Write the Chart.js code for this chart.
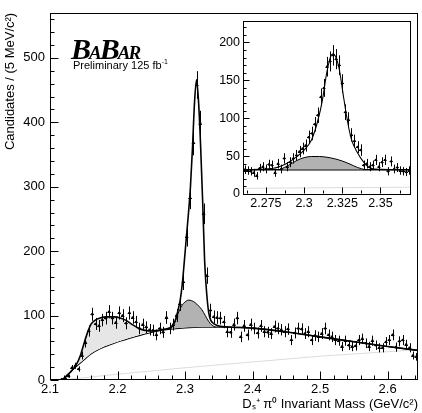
<!DOCTYPE html>
<html>
<head>
<meta charset="utf-8">
<script src="https://cdn.jsdelivr.net/npm/chart.js@4.4.1/dist/chart.umd.min.js"></script>
<style>
  html, body { margin: 0; padding: 0; background: #fff; }
  #wrap { position: relative; width: 422px; height: 413px; overflow: hidden; }
  #main { position: absolute; left: 0; top: 0; }
  #inset { position: absolute; left: 200px; top: 10px; }
  #logo { position: absolute; left: 71px; top: 34px; font-family: 'Liberation Serif', 'DejaVu Serif', serif;
          font-style: italic; font-weight: bold; color: #000; line-height: 1; letter-spacing: -2px; white-space: nowrap; }
  #logo .big { font-size: 30px; }
  #logo .sm { font-size: 19px; }
  #prelim { position: absolute; left: 73px; top: 58px; font: 11px 'Liberation Sans', Arial, sans-serif; color: #000; white-space: nowrap; }
</style>
</head>
<body>
<div id="wrap">
  <canvas id="main" width="422" height="413"></canvas>
  <div id="logo"><span class="big">B</span><span class="sm">A</span><span class="big">B</span><span class="sm">AR</span></div>
  <div id="prelim">Preliminary 125 fb<sup style="font-size:7px">-1</sup></div>
  <canvas id="inset" width="222" height="205"></canvas>
</div>
<script>
const FONT = "'Liberation Sans', Arial, Helvetica, sans-serif";

// main plot: 5 MeV bins
const binStart = 2.1025;
const binWidth = 0.005;
const counts = [null, null, null, 1, 3, 6, 19, 22, 17, 38,
  58, 76, 102, 87, 84, 93, 96, 106, 96, 89,
  104, 100, 88, 104, 97, 90, 80, 86, 82, 78,
  77, 70, 80, 74, 97, 80, 86, 100, 118, 152,
  222, 282, 368, 458, 398, 258, 162, 108, 98, 97,
  96, 90, 75, 74, 86, 96, 67, 84, 70, 86,
  80, 73, 84, 75, 74, 72, 83, 80, 78, 75,
  79, 62, 73, 80, 79, 72, 75, 62, 69, 67,
  72, 80, 70, 67, 62, 61, 52, 61, 54, 52,
  53, 62, 64, 57, 52, 61, 54, 50, 50, 59,
  62, 70, 51, 60, 62, 55, 50, 38, 36];

const bgX = [2.118, 2.125, 2.13, 2.14, 2.15, 2.16, 2.175, 2.2, 2.225, 2.25, 2.275, 2.3, 2.325, 2.35, 2.4, 2.45, 2.5, 2.55, 2.6, 2.645];
const bgY = [0, 7, 12, 22, 31, 40, 49, 59, 67, 74, 78.5, 81, 82, 82, 80.5, 74.5, 67, 59.5, 52, 46];

const totalX = [2.118, 2.125, 2.13, 2.139, 2.145, 2.149, 2.155, 2.161, 2.167, 2.173, 2.185, 2.195, 2.205, 2.212, 2.222, 2.232, 2.241, 2.25, 2.26, 2.27, 2.28,
  2.285, 2.29, 2.293, 2.296, 2.299, 2.302, 2.305, 2.308, 2.311, 2.314, 2.317, 2.32, 2.323, 2.326, 2.329, 2.332, 2.335, 2.338, 2.342, 2.347, 2.355,
  2.37, 2.4, 2.45, 2.5, 2.55, 2.6, 2.645];
const totalY = [0, 7, 12, 24, 38, 52, 72, 87, 93, 96, 98, 98, 96, 93, 86, 80, 77, 76, 77, 79, 82.5,
  91, 110, 125, 150, 185, 222, 258, 300, 360, 430, 466, 432, 365, 280, 185, 135, 105, 93, 88, 85, 83,
  82, 80.5, 74.5, 67, 59.5, 52, 46];

const reflX = [2.135, 2.14, 2.145, 2.149, 2.155, 2.161, 2.167, 2.173, 2.185, 2.195, 2.205, 2.212, 2.222, 2.232, 2.241, 2.25, 2.26, 2.27];
const reflY = [18, 25, 38, 52, 72, 87, 93, 96, 98, 98, 96, 93, 86, 80, 77, 76, 77, 79];

const bumpX = [2.276, 2.28, 2.285, 2.29, 2.295, 2.3, 2.305, 2.31, 2.315, 2.32, 2.325, 2.33, 2.335, 2.34, 2.345];
const bumpY = [78.8, 82, 90, 104, 115, 121, 124, 123, 120, 115, 109, 100, 91, 85, 82];

const faintX = [2.118, 2.2, 2.3, 2.4, 2.5, 2.645];
const faintY = [0, 9, 19, 28, 37, 47];

const mainXTicks = [2.1, 2.2, 2.3, 2.4, 2.5, 2.6];
const mainYTicks = [0, 100, 200, 300, 400, 500];

// inset: 2 MeV bins
const insetStart = 2.261;
const insetWidth = 0.002;
const insetCounts = [32, 31, 30, 28, 24, 34, 36, 33, 39, 38,
  28, 40, 33, 47, 36, 42, 47, 51, 56, 60,
  64, 75, 80, 92, 104, 128, 140, 168, 175, 183,
  178, 170, 146, 108, 98, 78, 70, 62, 58, 38,
  40, 36, 38, 45, 36, 42, 45, 30, 43, 33,
  35, 31, 30, 29, 31];

const insetTotX = [2.26, 2.27, 2.28, 2.285, 2.29, 2.295, 2.3, 2.305, 2.309, 2.312, 2.315, 2.3175, 2.319, 2.3205, 2.323, 2.326, 2.3285, 2.331, 2.3348, 2.339, 2.3435, 2.35, 2.37];
const insetTotY = [32, 32.5, 34, 37, 42, 49, 58, 72, 97, 124, 162, 182, 185, 182, 165, 126, 95, 72, 55, 42, 34, 32.5, 32];
const insetBumpX = [2.284, 2.29, 2.295, 2.3, 2.305, 2.31, 2.315, 2.32, 2.325, 2.33, 2.335, 2.34];
const insetBumpY = [32, 38, 44, 48, 49.5, 49.5, 48.5, 46.5, 43.5, 39.5, 35, 32];
const insetBgX = [2.26, 2.37];
const insetBgY = [32, 32];
const insetFaintX = [2.26, 2.37];
const insetFaintY = [7.5, 9];

const insetXTicks = [2.275, 2.3, 2.325, 2.35];
const insetYTicks = [0, 50, 100, 150, 200];

function pts(xs, ys) {
  return xs.map((x, i) => ({ x: x, y: ys[i] }));
}
function hist(start, w, vals) {
  return vals.map((v, i) => ({ x: start + i * w, y: v }));
}

// ROOT-like frame, inward ticks, error bars
const rootStyle = {
  id: 'rootStyle',
  beforeDraw(chart) {
    const a = chart.chartArea, ctx = chart.ctx;
    ctx.save();
    ctx.fillStyle = '#fff';
    ctx.fillRect(a.left, a.top, a.right - a.left, a.bottom - a.top);
    ctx.restore();
  },
  afterDatasetsDraw(chart) {
    const ctx = chart.ctx, xs = chart.scales.x, ys = chart.scales.y, a = chart.chartArea;
    ctx.save();
    ctx.beginPath();
    ctx.rect(a.left, a.top, a.right - a.left, a.bottom - a.top);
    ctx.clip();
    ctx.strokeStyle = '#000';
    ctx.lineWidth = 1;
    chart.data.datasets.forEach(ds => {
      if (!ds.binWidth) return;
      ds.data.forEach(p => {
        if (p.y == null) return;
        const e = Math.sqrt(p.y);
        const px = Math.round(xs.getPixelForValue(p.x)) + 0.5;
        const py = Math.round(ys.getPixelForValue(p.y)) + 0.5;
        ctx.beginPath();
        ctx.moveTo(px, ys.getPixelForValue(p.y - e));
        ctx.lineTo(px, ys.getPixelForValue(p.y + e));
        ctx.moveTo(xs.getPixelForValue(p.x - ds.binWidth / 2), py);
        ctx.lineTo(xs.getPixelForValue(p.x + ds.binWidth / 2), py);
        ctx.stroke();
      });
    });
    ctx.restore();
  },
  afterDraw(chart, args, opts) {
    const ctx = chart.ctx, xs = chart.scales.x, ys = chart.scales.y, a = chart.chartArea;
    ctx.save();
    ctx.strokeStyle = '#000';
    ctx.lineWidth = 1;
    ctx.strokeRect(Math.round(a.left) + 0.5, Math.round(a.top) + 0.5, Math.round(a.right - a.left) - 1, Math.round(a.bottom - a.top) - 1);
    ctx.beginPath();
    const bottom = Math.round(a.bottom) - 0.5, left = Math.round(a.left) + 0.5;
    const nx = Math.round((xs.max - opts.xMinorStart) / opts.xMinor);
    for (let k = 0; k <= nx; k++) {
      const v = opts.xMinorStart + k * opts.xMinor;
      if (v > xs.max) break;
      const major = xs.ticks.some(t => Math.abs(t.value - v) < 1e-6);
      const px = Math.round(xs.getPixelForValue(v)) + 0.5;
      ctx.moveTo(px, bottom);
      ctx.lineTo(px, bottom - (major ? opts.major : opts.minor));
    }
    const ny = Math.round(ys.max / opts.yMinor);
    for (let k = 0; k <= ny; k++) {
      const v = k * opts.yMinor;
      if (v > ys.max) break;
      const major = ys.ticks.some(t => Math.abs(t.value - v) < 1e-6);
      const py = Math.round(ys.getPixelForValue(v)) + 0.5;
      ctx.moveTo(left, py);
      ctx.lineTo(left + (major ? opts.major : opts.minor), py);
    }
    ctx.stroke();
    ctx.restore();
  }
};

function curve(data, color, width, extra) {
  return Object.assign({
    data: data, borderColor: color, borderWidth: width, pointRadius: 0,
    cubicInterpolationMode: 'monotone', fill: false
  }, extra || {});
}

function scalesFor(cfg) {
  return {
    x: {
      type: 'linear', min: cfg.xmin, max: cfg.xmax,
      afterBuildTicks: s => { s.ticks = cfg.xticks.map(v => ({ value: v })); },
      afterFit: s => { s.height = cfg.xh; },
      grid: { display: false, drawTicks: false },
      border: { display: false },
      ticks: { font: { family: FONT, size: cfg.fs }, color: '#000', padding: cfg.xpad, maxRotation: 0, autoSkip: false, callback: v => String(v) },
      title: cfg.xtitle ? { display: true, text: cfg.xtitle, align: 'end', color: '#000', font: { family: FONT, size: 13 }, padding: { top: 0, bottom: 1 } } : { display: false }
    },
    y: {
      min: 0, max: cfg.ymax,
      afterBuildTicks: s => { s.ticks = cfg.yticks.map(v => ({ value: v })); },
      afterFit: s => { s.width = cfg.yw; },
      grid: { display: false, drawTicks: false },
      border: { display: false },
      ticks: { font: { family: FONT, size: cfg.fs }, color: '#000', padding: cfg.ypad, callback: v => String(v) },
      title: cfg.ytitle ? { display: true, text: cfg.ytitle, align: 'end', color: '#000', font: { family: FONT, size: 13 }, padding: { top: 3, bottom: 0 } } : { display: false }
    }
  };
}

new Chart(document.getElementById('main'), {
  type: 'line',
  data: {
    datasets: [
      { data: hist(binStart, binWidth, counts), showLine: false, pointRadius: 1.3, pointBackgroundColor: '#000', pointBorderWidth: 0, binWidth: binWidth },
      curve(pts(totalX, totalY), '#000', 1.6),
      curve(pts(bumpX, bumpY), '#000', 1, { fill: { target: 4, above: '#b2b2b2', below: 'rgba(0,0,0,0)' } }),
      curve(pts(reflX, reflY), 'rgba(0,0,0,0)', 0, { fill: { target: 4, above: '#e6e6e6', below: 'rgba(0,0,0,0)' } }),
      curve(pts(bgX, bgY), '#000', 1.2),
      curve(pts(faintX, faintY), '#dcdcdc', 1, { cubicInterpolationMode: 'default', tension: 0 })
    ]
  },
  options: {
    responsive: false, animation: false, devicePixelRatio: 1,
    layout: { padding: { top: 8, right: 2, left: 0, bottom: 0 } },
    plugins: {
      legend: { display: false }, tooltip: { enabled: false },
      rootStyle: { xMinorStart: 2.1, xMinor: 0.02, yMinor: 20, major: 8, minor: 4 }
    },
    scales: scalesFor({
      xmin: 2.1, xmax: 2.645, ymax: 570, xticks: mainXTicks, yticks: mainYTicks,
      xh: 33, yw: 50, fs: 13, xpad: 2, ypad: 5,
      xtitle: 'D\u209B\u207A \u03C0\u2070 Invariant Mass (GeV/c\u00B2)',
      ytitle: 'Candidates / (5 MeV/c\u00B2)'
    })
  },
  plugins: [rootStyle]
});

new Chart(document.getElementById('inset'), {
  type: 'line',
  data: {
    datasets: [
      { data: hist(insetStart, insetWidth, insetCounts), showLine: false, pointRadius: 1.2, pointBackgroundColor: '#000', pointBorderWidth: 0, binWidth: insetWidth },
      curve(pts(insetTotX, insetTotY), '#000', 1.1),
      curve(pts(insetBumpX, insetBumpY), '#000', 1, { fill: { target: 3, above: '#b2b2b2', below: 'rgba(0,0,0,0)' } }),
      curve(pts(insetBgX, insetBgY), '#000', 1.6, { cubicInterpolationMode: 'default', tension: 0 }),
      curve(pts(insetFaintX, insetFaintY), '#dcdcdc', 1, { cubicInterpolationMode: 'default', tension: 0 })
    ]
  },
  options: {
    responsive: false, animation: false, devicePixelRatio: 1,
    layout: { padding: { top: 10, right: 11, left: 0, bottom: 0 } },
    plugins: {
      legend: { display: false }, tooltip: { enabled: false },
      rootStyle: { xMinorStart: 2.2625, xMinor: 0.0125, yMinor: 10, major: 6, minor: 3 }
    },
    scales: scalesFor({
      xmin: 2.26, xmax: 2.37, ymax: 229, xticks: insetXTicks, yticks: insetYTicks,
      xh: 21, yw: 43, fs: 12.5, xpad: 2, ypad: 3
    })
  },
  plugins: [rootStyle]
});
</script>
</body>
</html>
